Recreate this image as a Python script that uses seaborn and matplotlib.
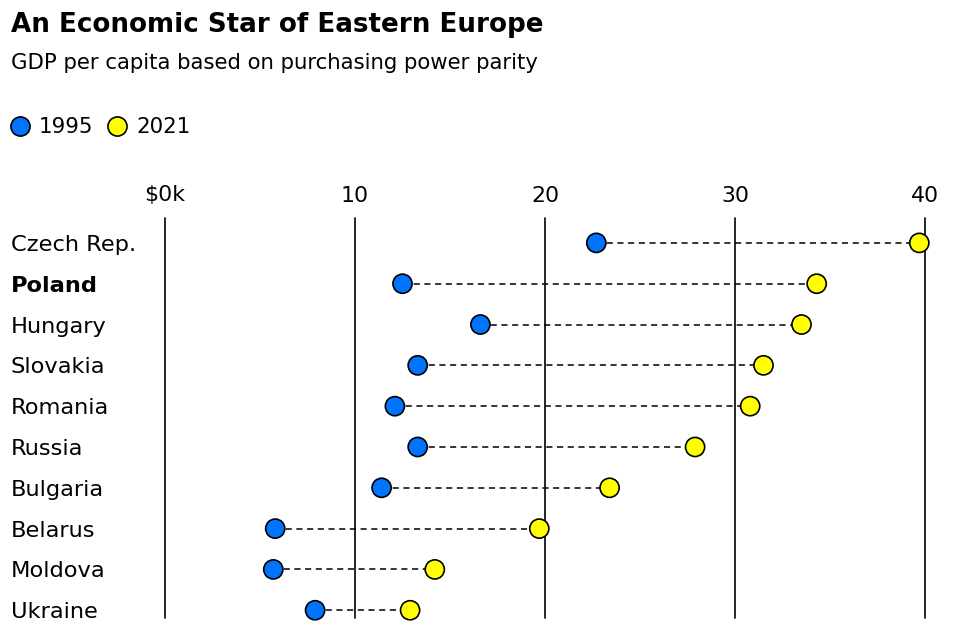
import matplotlib.pyplot as plt
import pandas as pd
import seaborn as sns

countries = ["Czech Rep.", "Poland", "Hungary", "Slovakia", "Romania",
             "Russia", "Bulgaria", "Belarus", "Moldova", "Ukraine"]
gdp_1995 = [22.7, 12.5, 16.6, 13.3, 12.1, 13.3, 11.4, 5.8, 5.7, 7.9]
gdp_2021 = [39.7, 34.3, 33.5, 31.5, 30.8, 27.9, 23.4, 19.7, 14.2, 12.9]
xticks = [0, 10, 20, 30, 40]
xtick_labels = ["\\$0k", "10", "20", "30", "40"]

blue = "#0073ff"
yellow = "#ffff00"

df = pd.DataFrame({"Country": countries, "1995": gdp_1995, "2021": gdp_2021})
long = df.melt(id_vars="Country", var_name="Year", value_name="GDP")
long["row"] = long["Country"].map({c: i for i, c in enumerate(countries)})

sns.set_style("white")
plt.rcParams["font.family"] = ["DejaVu Sans"]
plt.rcParams["text.color"] = "black"
plt.rcParams["xtick.color"] = "black"
plt.rcParams["ytick.color"] = "black"

W, H = 959, 642
fig = plt.figure(figsize=(W / 100, H / 100), dpi=100)
ax = fig.add_axes([165 / W, (H - 618) / H, (925 - 165) / W, 400 / H])

for x in xticks:
    ax.axvline(x, color="black", lw=1.2, zorder=1, clip_on=False)

ax.hlines(range(len(countries)), gdp_1995, gdp_2021, colors="black",
          linestyles=(0, (4, 3)), lw=1.1, zorder=2)

sns.scatterplot(data=long, x="GDP", y="row", hue="Year",
                palette={"1995": blue, "2021": yellow}, s=190,
                edgecolor="black", linewidth=1.2, zorder=3, clip_on=False, ax=ax)

ax.set_xlim(0, 40)
ax.set_ylim(9.19, -0.61)
for s in ax.spines.values():
    s.set_visible(False)

ax.xaxis.tick_top()
ax.set_xticks(xticks, xtick_labels, fontsize=15.8)
ax.tick_params(axis="x", length=0, pad=9)
ax.set_yticks(range(len(countries)), countries, fontsize=16.2)
ax.tick_params(axis="y", length=0, pad=(165 - 11) * 0.72)
for lab in ax.get_yticklabels():
    lab.set_horizontalalignment("left")
    if lab.get_text() == "Poland":
        lab.set_fontweight("bold")
ax.set_xlabel("")
ax.set_ylabel("")

sns.move_legend(ax, loc="center left", bbox_to_anchor=(9 / W, 1 - 127 / H),
                bbox_transform=fig.transFigure, ncol=2, frameon=False, title=None,
                fontsize=15.4, handlelength=1.0, handletextpad=0.4,
                columnspacing=0.6, borderpad=0, borderaxespad=0)

fig.text(11 / W, 1 - 25 / H, "An Economic Star of Eastern Europe",
         fontsize=18.8, fontweight="bold", va="center", ha="left")
fig.text(11 / W, 1 - 63 / H, "GDP per capita based on purchasing power parity",
         fontsize=15.3, va="center", ha="left")

fig.savefig("out.png", dpi=100)
